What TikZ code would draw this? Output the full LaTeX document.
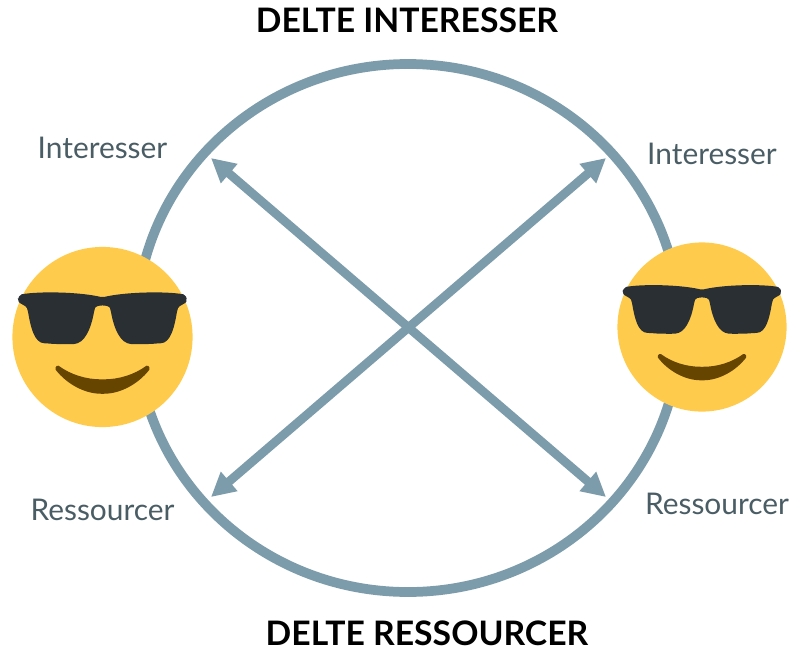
\documentclass[tikz,border=0pt]{standalone}
\usepackage{fontspec}
\setmainfont{Lato}
\usetikzlibrary{arrows.meta}
\definecolor{ringblue}{HTML}{7C9CAB}
\definecolor{labelgrey}{HTML}{4A5D65}
\definecolor{faceyellow}{HTML}{FFCB4C}
\definecolor{glassdark}{HTML}{292F33}
\definecolor{smilebrown}{HTML}{664500}
\tikzset{
	headline/.style={font=\fontsize{25.3}{28}\selectfont\bfseries, text=black, inner sep=0pt},
	sidelabel/.style={font=\fontsize{22.4}{25}\selectfont, text=labelgrey},
	swap/.style={line width=6.6pt, draw=ringblue, {Triangle[length=18pt,width=18pt]}-{Triangle[length=18pt,width=18pt]}}
}
\def\coolface(#1,#2,#3){
	\begin{scope}[shift={(#1,#2)}, x=#3*0.0075pt, y=#3*0.0075pt]
		\fill[faceyellow] (0,0) circle (100);
		\fill[glassdark, rounded corners=1.5pt] (-94,41) -- (-92,47) .. controls (-70,51) and (-25,50) .. (0,44) .. controls (25,50) and (70,51) .. (92,47) -- (94,41) .. controls (92,37) and (85,35) .. (83,30) .. controls (80,12) and (76,-7) .. (62,-7) .. controls (52,-8) and (42,-8) .. (34,-8) .. controls (20,-7) and (13,8) .. (9,30) .. controls (7,36) and (-7,36) .. (-9,30) .. controls (-13,8) and (-20,-7) .. (-34,-8) .. controls (-42,-8) and (-52,-8) .. (-62,-7) .. controls (-76,-7) and (-80,12) .. (-83,30) .. controls (-85,35) and (-92,37) .. (-94,41) -- cycle;
		\fill[smilebrown, rounded corners=1pt] (-50,-31) .. controls (-35,-42) and (-18,-47) .. (0,-47) .. controls (18,-47) and (35,-42) .. (50,-31) -- (53,-35) .. controls (40,-52) and (20,-63) .. (0,-63) .. controls (-20,-63) and (-40,-52) .. (-53,-35) -- cycle;
	\end{scope}
}

\begin{document}
\begin{tikzpicture}[x=0.75pt, y=-0.75pt]
	%%%%% START %%%%%
	\useasboundingbox (0, 0) rectangle (795, 650);
	
	\draw[draw=ringblue, line width=7.3pt] (408, 328) ellipse (272 and 264);
	
	\coordinate (topleft) at (211, 158);
	\coordinate (topright) at (606, 158);
	\coordinate (bottomleft) at (211, 497);
	\coordinate (bottomright) at (606, 497);
	\draw[swap] (topleft) -- (bottomright);
	\draw[swap] (topright) -- (bottomleft);
	
	\coolface(102.5, 337, 90)
	\coolface(702, 327, 84.5)
	
	\node[headline] (shared interests) at (407, 20) {DELTE INTERESSER};
	\node[headline] (shared resources) at (427, 633.5) {DELTE RESSOURCER};
	
	\node[sidelabel] (interests left) at (102.5, 147.5) {Interesser};
	\node[sidelabel] (resources left) at (102.5, 509.5) {Ressourcer};
	\node[sidelabel] (interests right) at (712, 153.5) {Interesser};
	\node[sidelabel] (resources right) at (717, 503.5) {Ressourcer};
	%%%%% END %%%%%
\end{tikzpicture}
\end{document}
